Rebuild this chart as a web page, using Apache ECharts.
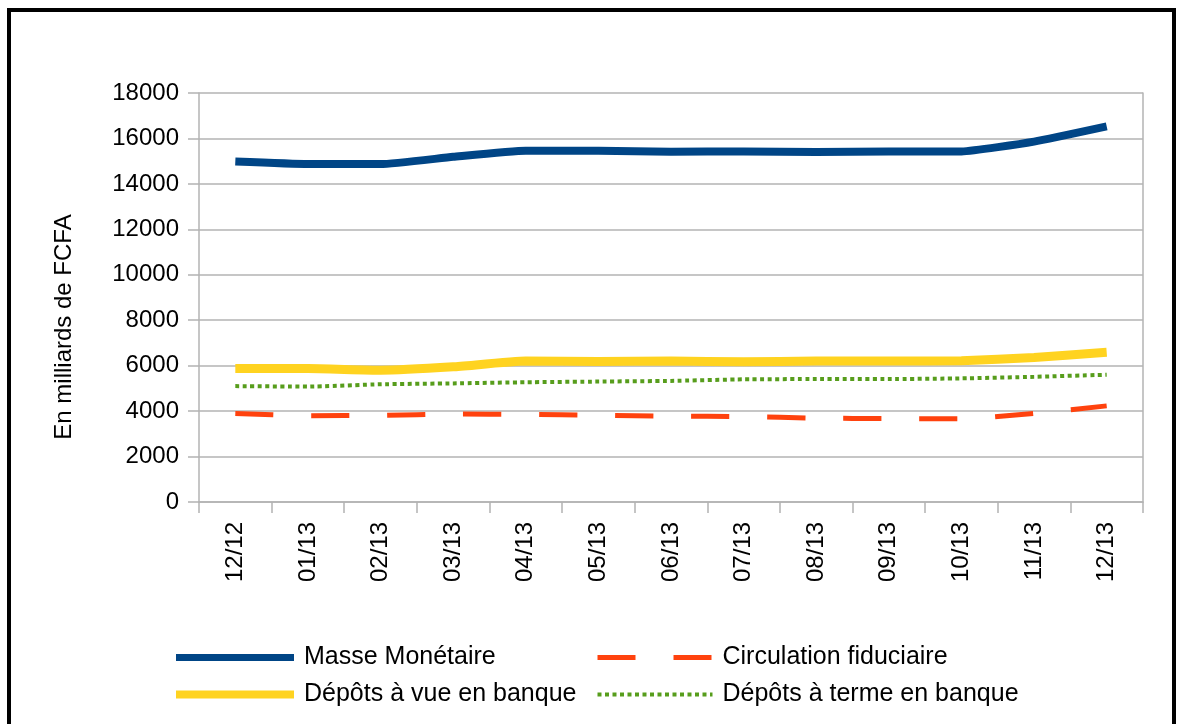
<!DOCTYPE html>
<html>
<head>
<meta charset="utf-8">
<script src="https://cdn.jsdelivr.net/npm/echarts@6/dist/echarts.min.js"></script>
<style>
  html, body { margin: 0; padding: 0; background: #fff; }
  #chart { width: 1180px; height: 724px; }
</style>
</head>
<body>
<div id="chart"></div>
<script>
// mois
const months = ['12/12', '01/13', '02/13', '03/13', '04/13', '05/13', '06/13',
  '07/13', '08/13', '09/13', '10/13', '11/13', '12/13']

const masseMonetaire = [14980, 14870, 14870, 15190, 15460, 15460, 15410, 15430, 15400, 15420, 15430, 15860, 16530]
const circulationFiduciaire = [3900, 3800, 3810, 3870, 3860, 3820, 3780, 3760, 3690, 3670, 3660, 3900, 4230]
const depotsVue = [5870, 5870, 5800, 5950, 6200, 6180, 6200, 6170, 6200, 6200, 6220, 6360, 6590]
const depotsTerme = [5100, 5080, 5180, 5220, 5270, 5300, 5330, 5400, 5410, 5410, 5440, 5510, 5600]

const fontFamily = '"Liberation Sans", Arial, sans-serif'
const gridColor = '#b3b3b3'

// item de légende : trait seul, sans symbole
function legendItem(name, width) {
  return { name: name, itemStyle: { opacity: 0 }, lineStyle: { width: width } }
}

const chart = echarts.init(document.getElementById('chart'))
chart.setOption({
  animation: false,
  textStyle: { fontFamily: fontFamily },
  grid: { left: 199, right: 37, top: 93, bottom: 222 },
  graphic: [
    {
      type: 'rect',
      shape: { x: 9, y: 10, width: 1165, height: 730 },
      style: { fill: 'none', stroke: '#000', lineWidth: 4 },
      silent: true
    },
    {
      type: 'text',
      x: 64, y: 327,
      rotation: Math.PI / 2,
      style: {
        text: 'En milliards de FCFA',
        fontSize: 24,
        fontFamily: fontFamily,
        fill: '#000',
        align: 'center',
        verticalAlign: 'middle'
      }
    }
  ],
  legend: [
    {
      orient: 'vertical',
      left: 167, top: 640,
      itemWidth: 118, itemHeight: 14, itemGap: 12,
      textStyle: { fontSize: 25, color: '#000', padding: [0, 0, 0, 5] },
      data: [legendItem('Masse Monétaire', 7), legendItem('Dépôts à vue en banque', 8)]
    },
    {
      orient: 'vertical',
      left: 590, top: 640,
      itemWidth: 115, itemHeight: 14, itemGap: 12,
      textStyle: { fontSize: 25, color: '#000', padding: [0, 0, 0, 5] },
      data: [legendItem('Circulation fiduciaire', 5), legendItem('Dépôts à terme en banque', 4)]
    }
  ],
  xAxis: {
    type: 'category',
    data: months,
    boundaryGap: true,
    axisLine: { lineStyle: { color: gridColor, width: 1.5 } },
    axisTick: { show: true, length: 11, lineStyle: { color: gridColor, width: 1.5 } },
    axisLabel: { rotate: 90, fontSize: 24, color: '#000', margin: 20 },
    splitLine: { show: false }
  },
  yAxis: [
    {
      type: 'value',
      min: 0, max: 18000, interval: 2000,
      axisLine: { show: true, lineStyle: { color: gridColor, width: 1.5 } },
      axisTick: { show: true, length: 11, lineStyle: { color: gridColor, width: 1.5 } },
      axisLabel: {
        fontSize: 24, color: '#000', margin: 20,
        formatter: function (v) { return String(v) }
      },
      splitLine: { lineStyle: { color: gridColor, width: 1.5 } }
    },
    {
      type: 'value',
      position: 'right',
      min: 0, max: 18000, interval: 2000,
      axisLine: { show: true, lineStyle: { color: gridColor, width: 1.5 } },
      axisTick: { show: false },
      axisLabel: { show: false },
      splitLine: { show: false }
    }
  ],
  series: [
    {
      name: 'Masse Monétaire',
      type: 'line',
      data: masseMonetaire,
      symbol: 'none',
      smooth: 0.15,
      color: '#004586',
      lineStyle: { width: 8, color: '#004586' }
    },
    {
      name: 'Circulation fiduciaire',
      type: 'line',
      data: circulationFiduciaire,
      symbol: 'none',
      smooth: 0.15,
      color: '#ff420e',
      lineStyle: { width: 5, color: '#ff420e', type: [38, 38] }
    },
    {
      name: 'Dépôts à vue en banque',
      type: 'line',
      data: depotsVue,
      symbol: 'none',
      smooth: 0.15,
      color: '#ffd320',
      lineStyle: { width: 9, color: '#ffd320' }
    },
    {
      name: 'Dépôts à terme en banque',
      type: 'line',
      data: depotsTerme,
      symbol: 'none',
      smooth: 0.15,
      color: '#579d1c',
      lineStyle: { width: 4, color: '#579d1c', type: [4, 3.5] }
    }
  ]
})
</script>
</body>
</html>
